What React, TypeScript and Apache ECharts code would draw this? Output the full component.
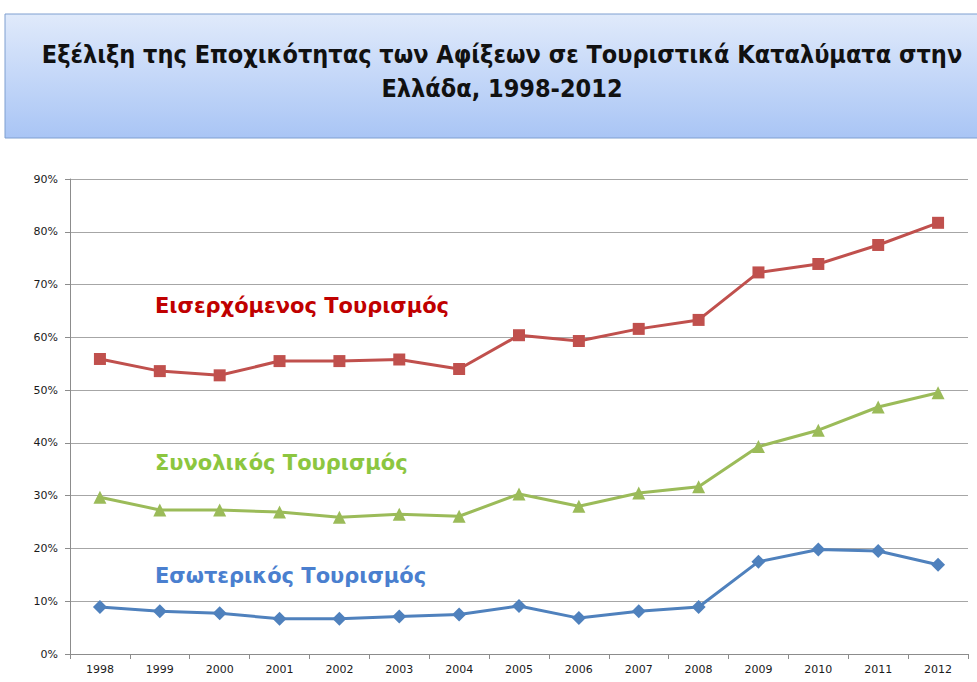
import React, { useEffect, useRef } from "react";
import * as echarts from "echarts";

const years = ["1998","1999","2000","2001","2002","2003","2004","2005","2006","2007","2008","2009","2010","2011","2012"];
const incoming = [55.9, 53.6, 52.8, 55.5, 55.5, 55.8, 54.0, 60.4, 59.3, 61.6, 63.3, 72.3, 73.9, 77.5, 81.7];
const total = [29.7, 27.3, 27.3, 26.9, 25.9, 26.5, 26.1, 30.3, 28.0, 30.5, 31.7, 39.3, 42.4, 46.8, 49.5];
const domestic = [8.9, 8.1, 7.7, 6.7, 6.7, 7.1, 7.5, 9.1, 6.8, 8.1, 8.9, 17.5, 19.8, 19.5, 16.9];
const seriesNames = ["Εισερχόμενος Τουρισμός", "Συνολικός Τουρισμός", "Εσωτερικός Τουρισμός"];
const titleLines = ["Εξέλιξη της Εποχικότητας των Αφίξεων σε Τουριστικά Καταλύματα στην", "Ελλάδα, 1998-2012"];

export default function App() {
  const ref = useRef<HTMLDivElement>(null);
  useEffect(() => {
    if (!ref.current) return;
    const chart = echarts.init(ref.current, null, { renderer: "svg" });
    const red = "#c0504d", green = "#9bbb59", blue = "#4f81bd";
    chart.setOption({
      animation: false,
      backgroundColor: "#ffffff",
      grid: { left: 70, right: 9, top: 179, bottom: 28, containLabel: false },
      xAxis: {
        type: "category",
        data: years,
        boundaryGap: true,
        axisLine: { lineStyle: { color: "#8c8c8c", width: 1 } },
        axisTick: { show: true, length: 5, lineStyle: { color: "#8c8c8c" } },
        axisLabel: { color: "#1a1a1a", fontFamily: "DejaVu Sans", fontSize: 11, margin: 10 },
      },
      yAxis: {
        type: "value",
        min: 0,
        max: 90,
        interval: 10,
        axisLine: { show: true, lineStyle: { color: "#8c8c8c" } },
        axisTick: { show: true, length: 5, lineStyle: { color: "#8c8c8c" } },
        splitLine: { lineStyle: { color: "#a6a6a6", width: 1 } },
        axisLabel: { color: "#1a1a1a", fontFamily: "DejaVu Sans", fontSize: 11, margin: 12, formatter: "{value}%" },
      },
      series: [
        {
          name: seriesNames[0], type: "line", data: incoming, symbol: "rect", symbolSize: 12,
          lineStyle: { color: red, width: 3 }, itemStyle: { color: red },
        },
        {
          name: seriesNames[1], type: "line", data: total, symbol: "triangle", symbolSize: 13,
          lineStyle: { color: green, width: 3 }, itemStyle: { color: green },
        },
        {
          name: seriesNames[2], type: "line", data: domestic, symbol: "diamond", symbolSize: 14,
          lineStyle: { color: blue, width: 3 }, itemStyle: { color: blue },
        },
      ],
      graphic: [
        {
          type: "rect",
          shape: { x: 5, y: 14, width: 980, height: 124 },
          style: {
            fill: new echarts.graphic.LinearGradient(0, 0, 0, 1, [
              { offset: 0, color: "#e0eafb" },
              { offset: 1, color: "#a9c5f5" },
            ]),
            stroke: "#7f9fd0",
            lineWidth: 1,
          },
          z: 0,
        },
        {
          type: "text",
          x: 502, y: 54,
          style: { text: titleLines[0], fill: "#111", font: "bold 25px 'DejaVu Sans Condensed'", textAlign: "center", textVerticalAlign: "middle" },
          z: 1,
        },
        {
          type: "text",
          x: 502, y: 88,
          style: { text: titleLines[1], fill: "#111", font: "bold 25px 'DejaVu Sans Condensed'", textAlign: "center", textVerticalAlign: "middle" },
          z: 1,
        },
        {
          type: "text", x: 155, y: 306,
          style: { text: seriesNames[0], fill: "#c00000", font: "bold 21px 'DejaVu Sans'", textVerticalAlign: "middle" },
          z: 5,
        },
        {
          type: "text", x: 155, y: 463,
          style: { text: seriesNames[1], fill: "#8cc63f", font: "bold 21px 'DejaVu Sans'", textVerticalAlign: "middle" },
          z: 5,
        },
        {
          type: "text", x: 155, y: 576,
          style: { text: seriesNames[2], fill: "#4a7fcf", font: "bold 21px 'DejaVu Sans'", textVerticalAlign: "middle" },
          z: 5,
        },
      ],
    });
    return () => chart.dispose();
  }, []);
  return <div ref={ref} style={{ position: "absolute", left: 0, top: 0, width: 977, height: 682 }} />;
}
